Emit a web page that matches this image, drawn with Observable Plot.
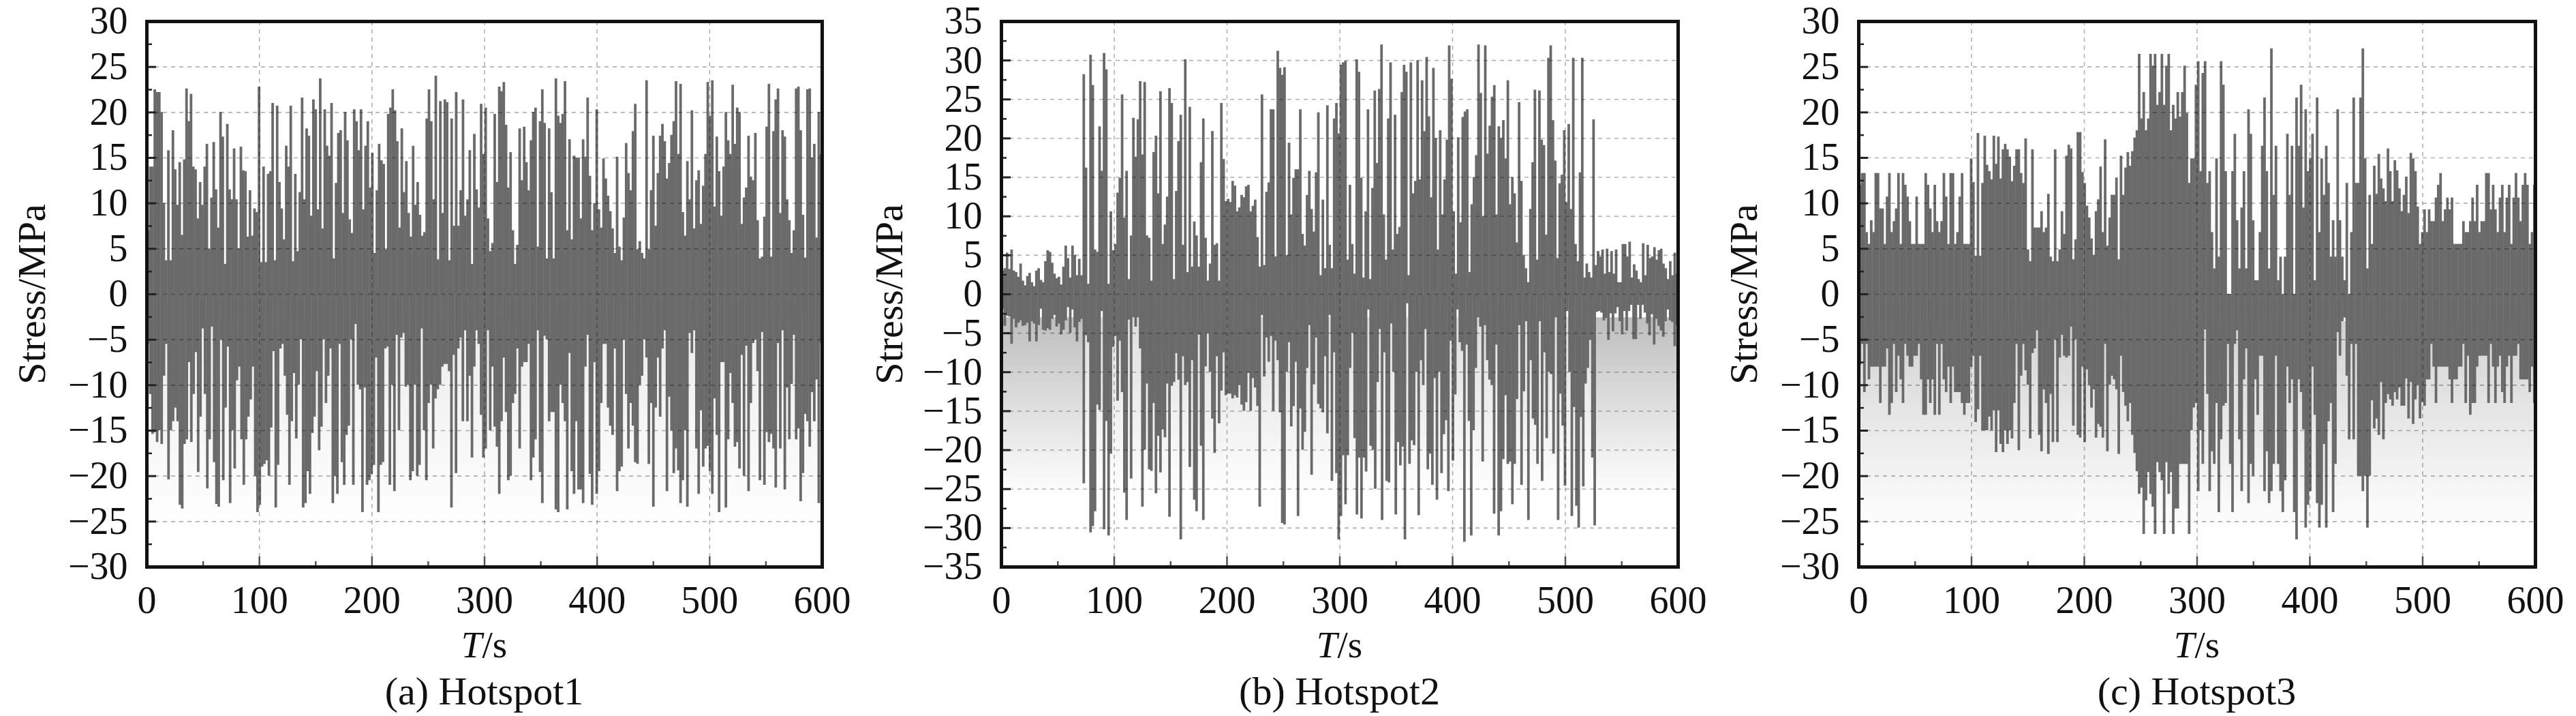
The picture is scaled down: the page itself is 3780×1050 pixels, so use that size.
<!DOCTYPE html>
<html><head><meta charset="utf-8">
<script src="https://cdn.jsdelivr.net/npm/d3@7"></script>
<script src="https://cdn.jsdelivr.net/npm/@observablehq/plot@0.6"></script>
<style>
html,body{margin:0;padding:0;background:#fff;width:3780px;height:1050px;overflow:hidden}
.p{position:absolute;top:0;height:1050px;font-family:"Liberation Serif",serif;color:#111}
.p svg{position:absolute;left:0;top:0;overflow:visible;background:transparent}
.l{position:absolute;white-space:nowrap;transform:translateX(-50%);line-height:1}
</style></head><body>
<script>
const titles = ["(a) Hotspot1","(b) Hotspot2","(c) Hotspot3"];
const xTitle = "/s", xTitleItalic = "T", yTitle = "Stress/MPa";
const xMajor = [0,100,200,300,400,500,600];
const xMinor = [50,150,250,350,450,550];
const yMajorA = [-30,-25,-20,-15,-10,-5,0,5,10,15,20,25,30];
const yMinorA = [-27.5,-22.5,-17.5,-12.5,-7.5,-2.5,2.5,7.5,12.5,17.5,22.5,27.5];
const yMajorB = [-35,-30,-25,-20,-15,-10,-5,0,5,10,15,20,25,30,35];
const yMinorB = [-32.5,-27.5,-22.5,-17.5,-12.5,-7.5,-2.5,2.5,7.5,12.5,17.5,22.5,27.5,32.5];

// Hotspot1, 0-300 s
const hiA1 = [7,14,14,22.5,22.2,22.2,20,10,3.7,15.8,3.7,18,13.7,9.8,14.5,6.5,14.8,22.6,19,22,14,13.7,8.3,12.3,9.8,14,16.5,5,10.6,16.7,11.5,7.3,20,17.3,3.3,18.7,11.5,10.4,16,10.4,5,16.2,13.6,13.5,6.3,11.4,6.4,9.4,9,22.8,3.5,14,3.5,13.2,13.5,21,3.7,20.7,12.3,9.4,6,16.3,14,20.7,3.6,13.2,4.7,11.2,21.6,10.4,18.2,17.4,8.6,21.4,20.3,9.3,23.7,7.2,20.3,16.3,15.2,21,3.9,12.2,17.7,18,8.9,20,16.9,8.2,6.7,20.3,19,15.8,20.3,9.3,16.3,19,11.7,15.5,4.5,11.4,16.5,14.7,14.3,4.9,19.8,20.5,22.5,20.2,16.8,7.3,18.2,11.2,14.6,8.9,6.3,16.3,9.8,12.3,8.7,6.4,6.8,19.3,22.5,19,10.4,24,3.8,21.2,8.9,21.4,21.1,3.7,19.3,7.5,22.2,7.5,11.4,21.4,8.6,10.4,15.8,3.3,17.6,11.5,9.5,20.9,15.4];
const loA1 = [-5.5,-11,-15.4,-15.2,-16.3,-15,-16.5,-9,-5.5,-20.4,-15,-14,-12.5,-14,-23.2,-23.6,-16.5,-16,-7.5,-16.3,-11,-6.4,-19.6,-13.5,-3.8,-11,-21.4,-16,-3.6,-18.5,-23.1,-23.4,-5,-20.5,-12.5,-5.8,-23,-15,-19.2,-9.5,-8,-16,-21,-16,-13.5,-11.6,-8,-20,-24,-23.2,-19,-18.7,-18.3,-20,-14.7,-6.3,-23.5,-18.8,-6,-5.5,-9,-13.3,-21,-14,-8.7,-15.9,-10,-5,-23.5,-23,-19.5,-22,-15.3,-13.5,-8.5,-17.2,-14.6,-5,-12,-9,-6,-23,-20,-22,-5.5,-18.5,-21,-15.5,-14.5,-5,-21,-3.3,-10,-10.5,-24,-10.3,-21,-20.5,-19.8,-18.8,-7,-24,-18.8,-18.5,-6,-5.8,-21,-10,-21.7,-4.5,-15,-4.8,-4.3,-10.2,-10,-20.5,-19.5,-10,-20,-18.8,-3.8,-15,-20.5,-12,-10,-17,-11.5,-10.5,-10,-8,-7.7,-7.7,-8.5,-23.5,-6.7,-19.7,-6,-4.8,-14,-4,-14,-9,-18,-8,-4,-5.5,-13.3,-18];
// Hotspot1, 300-600 s
const hiA2 = [20.5,8.3,4.7,5.6,19.8,12.3,22.8,22.3,23.3,18.6,11.7,15.6,7,3.3,5.4,18.2,12.5,18.4,14.5,11.4,16.9,20,20.5,5.2,19,22.5,18.8,3.9,18.2,11.2,3.9,23.7,19.6,18.8,19.8,23.4,7,17,6,15.2,15,15,8.3,17,15.1,21.6,13,7,10,20.3,9.3,7.3,14.9,12.7,10.8,9.1,7.2,4.5,15.1,5.2,3.7,8.4,16.6,13.3,11.4,17.9,20.9,4.9,5.8,4.5,3.9,23.5,4.9,11.4,17.4,7.5,13.3,17.4,18.7,16.8,12.7,14.4,17.5,19,23.4,15.4,23.1,9,6.4,14.6,10.4,20.2,7.2,12.5,13.6,7.7,11.9,15.4,23.3,19.6,23.5,9.6,17.3,13.5,8.6,14,20,16.9,15.4,23,16.5,20.5,20,7.7,10.6,11.7,17.4,12.9,12.5,17.7,8.1,3.9,4.1,8.5,18.4,23.1,4.1,17.9,21.4,22.6,8.9,18,17.3,10.4,8.1,4.5,7,22.6,22.8,18,8.7,4,22.5,22.6,15,16.5,6.2,20,15.4];
const loA2 = [-17,-4,-15,-8,-14.6,-16.8,-22,-14,-7,-13,-20.5,-20,-12,-11,-6,-17,-8,-7.5,-7.5,-5.5,-20.5,-18,-16,-4,-19.6,-23,-4.6,-5,-14,-13,-13,-23.7,-24,-10,-12,-14,-23.7,-6.5,-19.5,-22,-14,-21.5,-21.5,-23,-8,-4.5,-19.8,-23.2,-7.5,-22,-19.5,-12,-5.5,-5.5,-12.5,-14.5,-15.5,-6,-21.7,-19.5,-19,-5,-11,-17,-12,-14.5,-18.5,-18.7,-10,-9,-5,-7,-18.7,-12,-23.4,-12.5,-7,-13.5,-6,-4,-21.7,-11.3,-15,-19.7,-17,-19.4,-23,-20.5,-15,-23.4,-4.3,-6.5,-4,-17,-22,-12.8,-19,-17,-16.7,-19.5,-22,-11.5,-15.5,-24,-7.5,-7.5,-23.5,-16,-8.7,-12,-16.8,-16.3,-19.2,-6.7,-20,-5.7,-21.7,-12,-5.4,-5,-8.5,-20.5,-4.2,-21,-15.2,-16.3,-15.4,-17,-21.3,-5.4,-17,-4,-21.5,-10.3,-16,-9.9,-4.5,-16,-14.8,-22.8,-19.7,-13.2,-14,-16.8,-10.8,-14,-9.4,-23,-5.4];

// Hotspot2, 0-300 s
const hiB1 = [3,3.3,5.3,3.2,5.7,3,2.8,2.2,3.9,1.7,1.1,2.3,2.7,1.5,1,3,3.3,1.8,1.5,4.2,5.6,5.4,4,2.6,2,2.2,1.2,3.5,6.2,4.6,2.1,6.2,5,2.4,4.5,2.4,28.2,16.2,1.3,30.7,26.8,5.7,5.4,21.5,15.8,30.9,28.8,1.3,10.6,5.6,6.4,13,14.9,25.6,9.8,15.8,1.9,7.5,22.6,17.6,22.4,27.3,17.9,27.2,7.5,7.2,1.7,18.2,20.3,12.9,26,6.4,8.9,12.5,26.4,24.5,1.9,13.2,19.6,23,6.3,30.1,2.8,24,3.5,9.3,7.5,3.5,16.9,22.5,7.2,1.7,3.9,20.9,6.3,6.5,1.7,24.5,17.3,11.9,12.2,11.8,14.5,13.9,10.6,11.1,12.7,12.4,13.8,14,10.6,11.3,12.1,7.3,3.5,25.6,3.7,13.1,14.3,23.7,23.7,4.8,31.2,29,28.1,29.1,5,19.4,10.2,14.9,16,16,23.7,7.7,6.2,12.7,15.8,10.9,8,15.6,23.3,2.4,12.1,3.3,24.2,6.3,3.3,22.5,24.5,20.6];
const loB1 = [-1.9,-4.1,-2.8,-2.9,-6.4,-3.2,-4.3,-3.7,-3.4,-4.1,-4,-3.7,-6.1,-3.5,-3.8,-6.1,-4,-1.9,-4.6,-4.7,-4.4,-4.6,-3.2,-2.7,-4.2,-3.8,-5.2,-4.6,-3.4,-1.7,-5,-2,-4.3,-6.1,-3.6,-3.2,-24.3,-5.3,-6.2,-30.6,-29.8,-27.9,-14.2,-14.9,-2.2,-30.2,-16.3,-31,-20.5,-6.8,-5.4,-13.7,-6,-12.6,-25.5,-29,-3.3,-23.7,-3,-4.2,-3,-7,-27.3,-20,-11.5,-22.5,-22.7,-14,-25.6,-18.2,-22.9,-17.4,-18.4,-11.5,-28.6,-11.8,-11.3,-7.6,-11,-31.5,-8,-11.7,-11.3,-22.2,-8.5,-26.4,-27.9,-5.2,-19.5,-29,-9.3,-5,-10,-16,-20.4,-8,-16.6,-12.4,-7.5,-13,-12.8,-12.8,-13.4,-13,-13.3,-11.7,-14.2,-15,-13.9,-10.1,-15,-10.8,-12,-14.4,-27.3,-2.7,-10.6,-5.6,-8.7,-5.4,-15,-6,-8.5,-15.2,-29.4,-29.6,-10,-6.2,-17,-14.4,-8.7,-28.5,-14.7,-20,-17.7,-9.5,-4,-23.2,-11.6,-5.6,-14.1,-14.7,-15.2,-8,-17.9,-2.7,-24,-7.5,-23,-31.5];
// Hotspot2, 300-600 s
const hiB2 = [29.4,29.7,29.9,4.4,14,6.4,2.6,30.1,28.5,14.9,2.1,10.6,23.7,1.9,13.6,26.1,16.8,26.3,32,10.2,4.4,22.5,29.7,5.7,23,7.7,8.6,25.9,29.4,28.5,2.4,29.7,12.9,14.5,30,14.7,27.4,20.9,30.4,22.8,12.4,29,20,5.7,21,10.2,14.7,19.8,31.9,27.6,10.6,2.6,20.1,9.2,22.7,23.4,23.7,2.8,11.5,15,17.8,32,25.8,10,31.9,18,21.6,25.3,26.8,10.2,21.5,20,22.3,17.4,27.4,11.5,15,12.9,6.6,24.6,14.5,5,3.3,1.5,10.9,16.9,26.2,4.4,26.1,19.8,19.1,7.6,30.3,31.9,22.3,17.1,4.6,14.2,15.3,21,11.8,21.8,10.9,30.3,6.4,4.2,15.6,30.3,2.1,3.9,2.8,2.1,22.4,3.7,5.5,4.8,5.7,2.6,5.8,2.8,5.5,2.6,5.7,1.5,1.5,6.4,6.4,4.8,6.7,2.1,3.8,3,1.9,1.5,6.5,2.4,6.3,4.6,4.8,6,4.4,5.6,5.8,3.9,3.3,1.9,4.2,2.4,5.3,2.6];
const loB2 = [-28.5,-20.7,-27,-20.7,-9.5,-5,-18.5,-28.3,-21,-28.8,-21,-22.8,-2,-19.5,-20,-25,-11.3,-4.5,-29,-7.5,-24,-24.2,-3.8,-10,-28.3,-19,-22,-19.6,-31.5,-1.2,-21.8,-18.8,-19.4,-10,-28.4,-8.5,-11.7,-4.5,-22.5,-20.5,-24.5,-10.8,-26.4,-10,-23,-18,-16.2,-25.3,-6,-21.4,-12.9,-2,-6.2,-7.3,-31.8,-6.5,-16.3,-31,-17.5,-9.5,-3,-4.2,-21.5,-4,-8.5,-11,-11.7,-28.2,-6.5,-31,-27.9,-21.2,-13,-21.8,-21.5,-27,-21.8,-13.5,-4,-24.5,-12.5,-3.5,-29,-8.5,-16,-16.8,-21.8,-3.5,-24,-7.5,-18.5,-10,-10.3,-20.5,-3,-29,-12.8,-16.9,-24.6,-2.2,-10,-28.5,-14.5,-27.2,-30,-15.8,-24.7,-11.5,-9.5,-5.9,-21,-29.7,-2.3,-2.2,-2.4,-3.4,-3.1,-5.9,-2.5,-4.8,-2.5,-1.7,-3.5,-5.2,-2.2,-4.7,-2.2,-1.4,-5.8,-5.8,-1.4,-3.2,-1.4,-2.4,-3.8,-5.3,-2.6,-6.5,-3.2,-4.1,-4.7,-5.5,-3.5,-2,-3.4,-3.6,-6.7,-4];

// Hotspot3, 0-300 s
const hiC1 = [12,13.3,13.3,6.8,5.5,8.1,6.8,13.3,13.3,9.4,9.4,5.5,10.7,13.3,6.8,8,9.4,13.3,5.5,13.3,12,10.7,8,5.5,5.5,10.7,5.5,5.5,5.5,13.3,12,9.4,6.8,12,8,6.8,8,13.3,10.7,5.5,13.3,13.3,5.5,6.8,10.7,13.3,5.5,5.5,5.5,14.9,12.3,4.2,17.7,4.2,12.2,17.4,14.2,13.5,12.6,17.4,14.3,17.3,12.7,15.9,16.5,15.9,15.1,12.4,14.1,15.9,15.9,13.3,12.2,17.1,4.9,3.6,15.9,7.3,7.3,7.3,9.1,6.8,7.3,11,4.1,3.6,15.9,3.6,4.9,9.1,6.6,15.2,16.4,16,3.8,6,17.8,17.8,13.4,12.2,9.7,8.4,6.1,4.3,9.1,10.4,14,6.8,17,5.3,8.4,10.9,10.9,12.8,3.8,15.2,10.9,13.9,15.6,14.1,15.7,17.2,18,26.4,19.3,22.2,18,19.3,26.4,25.1,26.4,20.8,22.2,26.4,20.8,25.1,26.4,18,20.8,19.3,22.2,19.5,22.2,25.1,19.9,12.2,14.9,14.9,23];
const loC1 = [-7.8,-5.5,-10.8,-5.5,-9.4,-8,-8,-8,-8,-12,-8,-8,-6,-13.3,-12,-5.5,-10.8,-6.8,-9.4,-12,-5.5,-6.8,-8,-8,-6.8,-6.8,-5.5,-9.4,-13.3,-13.3,-9.4,-12,-9.4,-13.3,-5.5,-13.3,-5.5,-9.4,-10.8,-8,-12,-8,-10.8,-10.8,-10.8,-12,-13.3,-12,-12,-8,-6.8,-14.1,-12.7,-6.8,-15,-15,-15,-13.5,-15,-12.8,-17.4,-12.8,-16.5,-17.4,-15,-16.5,-15,-15.9,-12,-5.5,-17.2,-9,-5.5,-8.4,-10,-15.9,-6.5,-6,-4,-15.5,-17.3,-10.5,-12,-17.6,-11,-16.3,-5,-16.3,-7,-4.5,-6.8,-7,-6.8,-3.6,-14.5,-5,-15.5,-15.8,-8,-16.3,-8.3,-10,-12.5,-10.5,-15.8,-14.3,-14.6,-15.8,-5.5,-17.3,-10,-9,-9.4,-10.5,-17.6,-6.8,-10.8,-12.3,-14,-12,-15.5,-17.5,-19.5,-22,-21.3,-26.4,-22.7,-19.6,-22,-23.4,-26.4,-18.5,-19.6,-20.5,-26.4,-18.5,-22,-19.6,-26.4,-23.6,-23.6,-18.7,-18.7,-18.7,-18.7,-26.4,-15,-12.5,-12];
// Hotspot3, 300-600 s
const hiC2 = [25.6,13.5,24.3,25.6,12.2,13.5,6.8,2.8,14.9,4.1,25.6,23,13.5,0,0,13.5,17.6,8.1,2.8,9.5,13.5,2.8,20.3,17.6,8.1,1.5,1.5,6.8,16.3,21.6,13.5,2.8,27,10.9,16.3,1.5,4.1,0,4.1,17.6,10.9,16.3,0,21.6,16.3,23,9.5,20.3,13.5,14.9,17.6,1.5,21.6,6.8,14.9,10.9,16.3,12.2,4.1,8.1,4.1,20.3,8.1,4.1,1.5,12.2,0,6.8,21.6,12.2,12.2,21.6,27,14.9,2.8,10.9,5.5,14.1,11,15.4,12.7,11.6,10.2,16,13.5,10.2,14.7,13.6,11.6,9.1,10.9,12.9,8.9,15.5,14.9,13.5,9.6,5.5,6.8,9.3,6.8,9.3,8,8,10.6,12,13.3,8,9.3,10.6,9.3,10.6,5.5,5.5,5.5,5.5,8,6.8,6.8,8,10.6,8,12,6.8,8,8,13.3,13.3,9.3,12,9.3,6.8,10.6,12,6.8,10.6,12,5.5,10.6,13.3,10.6,8,12,13.3,12,5.5,6.8,12];
const loC2 = [-21.7,-15,-18.7,-3.9,-11,-21.7,-17.3,-18.7,-12,-24,-16,-12.3,-12,-5.5,-18.7,-24,-5.5,-4,-16,-21.7,-9.4,-6,-23,-18.7,-20,-9.4,-13.3,-6.8,-6.8,-21.7,-17.3,-23,-21.7,-18.7,-6.8,-18.7,-21.7,-24,-20.5,-8,-12,-9.4,-24,-27,-9.4,-10.8,-14.9,-25.7,-23.2,-21.7,-8,-13.3,-23,-25.7,-23.2,-16.5,-25.7,-14,-12,-24,-18.7,-4.2,-6.8,-3,-2.6,-9,-16,-5.5,-16,-5.5,-20,-20,-21.7,-20,-25.7,-20,-11.7,-14.8,-13.7,-15.5,-9.7,-16,-12,-11,-11.6,-12.3,-10.8,-11.6,-10.3,-12.3,-12.3,-9.3,-13.7,-9.7,-14.3,-11.6,-10,-13.7,-11.9,-12.3,-9.4,-9.4,-5.5,-8,-12,-8,-8,-8,-8,-8,-9.4,-12,-9.4,-9.4,-8,-8,-5.5,-12,-6.8,-13.3,-12,-12,-8,-6.8,-6.8,-6.8,-6.8,-12,-5.5,-8,-12,-8,-6.8,-10.8,-12,-8,-6.8,-12,-6.8,-6.8,-5.5,-9.4,-9.4,-9.4,-9.4,-10.8,-8,-12];

// pale haze below the traces: extent of the band, and grey at its top (fades to white at the bottom)
const hazeTop = -3, hazeBottom = -26;
const hazeSegA = [[0, 600, "#ececec"]];
const hazeSegB = [[0, 72, "#bebebe"], [72, 524, "#dedede"], [524, 600, "#bebebe"]];
const hazeSegC = [[0, 600, "#d2d2d2"]];

function series(v1, v2) {
  const a = v1.map((v, i) => ({t: (i + .5) * 300 / v1.length, v}));
  const b = v2.map((v, i) => ({t: 300 + (i + .5) * 300 / v2.length, v}));
  return a.concat(b);
}

function panel(cfg) {
  const {id, left, width, mL, mR, yDomain, yMajor, yMinor, hi1, hi2, lo1, lo2, haze, title} = cfg;
  const top = 31, bottom = 831, H = 900;
  const plotW = width - mL - mR, plotH = bottom - top;
  const hi = series(hi1, hi2), lo = series(lo1, lo2);
  const grid = {stroke: "#000", strokeOpacity: .3, strokeWidth: 1.6, strokeDasharray: "6,6"};
  const cells = haze.map(([t1, t2, c], i) => ({t1, t2, i, c, top: hazeTop, bot: hazeBottom}));
  const line = {stroke: "#6a6a6a", strokeWidth: 3.8};
  const svg = Plot.plot({
    width, height: H, marginLeft: mL, marginRight: mR, marginTop: top, marginBottom: H - bottom,
    style: {background: "transparent", fontFamily: "Liberation Serif", color: "#111", overflow: "visible"},
    x: {domain: [0, 600], label: null},
    y: {domain: yDomain, label: null},
    marks: [
      ...cells.map(c => Plot.rect([c], {x1: "t1", x2: "t2", y1: "top", y2: "bot", fill: `url(#${id}${c.i})`})),
      Plot.ruleX(hi, {x: "t", y1: 0, y2: "v", ...line}),
      Plot.ruleX(lo, {x: "t", y1: "v", y2: 0, ...line}),
      Plot.ruleY(yMajor.slice(1, -1), {y: d => d, ...grid}),
      Plot.ruleX(xMajor.slice(1, -1), {x: d => d, ...grid}),
      Plot.tickX(xMajor, {x: d => d, insetTop: plotH - 15, stroke: "#555", strokeWidth: 2.5}),
      Plot.tickX(xMinor, {x: d => d, insetTop: plotH - 8, stroke: "#555", strokeWidth: 2.5}),
      Plot.tickY(yMajor, {y: d => d, insetRight: plotW - 14, stroke: "#222", strokeWidth: 3}),
      Plot.tickY(yMinor, {y: d => d, insetRight: plotW - 8, stroke: "#222", strokeWidth: 2.5}),
      Plot.axisX({ticks: xMajor, tickSize: 0, tickPadding: 28, fontSize: 56, label: null, stroke: "none", fill: "#111"}),
      Plot.axisY({ticks: yMajor, tickSize: 0, tickPadding: 28, fontSize: 56, label: null, stroke: "none", fill: "#111"}),
      Plot.axisY({ticks: [], tickSize: 0, fontSize: 58, label: yTitle, labelAnchor: "center", labelArrow: "none", labelOffset: cfg.labelOffset, fill: "#111"}),
      Plot.frame({stroke: "#111", strokeWidth: 5})
    ]
  });
  const ns = "http://www.w3.org/2000/svg";
  const defs = document.createElementNS(ns, "defs");
  cells.forEach(c => {
    const g = document.createElementNS(ns, "linearGradient");
    g.setAttribute("id", id + c.i);
    g.setAttribute("x1", "0"); g.setAttribute("x2", "0");
    g.setAttribute("y1", "0"); g.setAttribute("y2", "1");
    [["0", c.c], ["1", "#ffffff"]].forEach(([o, col]) => {
      const s = document.createElementNS(ns, "stop");
      s.setAttribute("offset", o); s.setAttribute("stop-color", col);
      g.appendChild(s);
    });
    defs.appendChild(g);
  });
  svg.insertBefore(defs, svg.firstChild);
  const div = document.createElement("div");
  div.className = "p";
  div.style.left = left + "px";
  div.style.width = width + "px";
  div.appendChild(svg);
  const cx = mL + plotW / 2;
  const xl = document.createElement("div");
  xl.className = "l";
  xl.style.cssText = `left:${cx}px;top:918px;font-size:55px`;
  const it = document.createElement("i");
  it.textContent = xTitleItalic;
  xl.append(it, xTitle);
  const cap = document.createElement("div");
  cap.className = "l";
  cap.style.cssText = `left:${cx}px;top:985px;font-size:58px`;
  cap.textContent = title;
  div.append(xl, cap);
  document.body.appendChild(div);
}

panel({id: "ha", left: 0, width: 1250, mL: 215, mR: 44, labelOffset: 191, yDomain: [-30, 30], yMajor: yMajorA, yMinor: yMinorA,
  hi1: hiA1, hi2: hiA2, lo1: loA1, lo2: loA2, title: titles[0], haze: hazeSegA});
panel({id: "hb", left: 1250, width: 1270, mL: 219, mR: 58, labelOffset: 187, yDomain: [-35, 35], yMajor: yMajorB, yMinor: yMinorB,
  hi1: hiB1, hi2: hiB2, lo1: loB1, lo2: loB2, title: titles[1], haze: hazeSegB});
panel({id: "hc", left: 2520, width: 1260, mL: 207, mR: 60, labelOffset: 191, yDomain: [-30, 30], yMajor: yMajorA, yMinor: yMinorA,
  hi1: hiC1, hi2: hiC2, lo1: loC1, lo2: loC2, title: titles[2], haze: hazeSegC});
</script>
</body></html>
